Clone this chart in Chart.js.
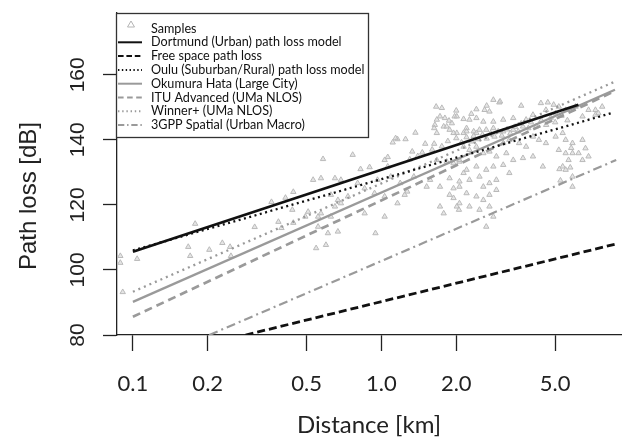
<!DOCTYPE html>
<html>
<head>
<meta charset="utf-8">
<script src="https://cdn.jsdelivr.net/npm/chart.js@4.4.1/dist/chart.umd.min.js"></script>
<style>
  html, body { margin: 0; padding: 0; background: #fff; }
  #wrap { width: 626px; height: 437px; }
</style>
</head>
<body>
<div id="wrap"><canvas id="chart" width="626" height="437"></canvas></div>
<script>
// ─────────────────────────────
// Data
// ─────────────────────────────
const xTicks = [0.1, 0.2, 0.5, 1, 2, 5];
const xTickLabels = ['0.1', '0.2', '0.5', '1.0', '2.0', '5.0'];
const yTicks = [80, 100, 120, 140, 160];

const sampleKm = [
  0.089, 0.089, 0.091, 0.104, 0.167, 0.170, 0.178, 0.203, 0.229, 0.246, 0.248, 0.309, 0.361, 0.385, 0.396, 0.411, 0.442, 0.438, 0.442,
  0.582, 0.766, 0.531, 0.571, 0.650, 0.687, 0.824, 0.896, 1.03, 1.06, 1.11, 1.16, 1.25, 1.37, 1.33, 1.46, 1.63, 1.66, 1.75, 1.72,
  1.80, 1.87, 1.92, 1.78, 1.97, 2.01, 2.14, 1.64, 1.88, 1.67, 1.83, 1.95, 2.06, 2.14, 1.88, 1.95, 2.06, 1.72, 1.88, 1.95, 2.01,
  2.05, 1.72, 1.78, 1.57, 1.52, 1.27, 1.24, 1.16, 1.03, 0.946, 0.856, 0.687, 0.668, 0.626, 0.650, 0.668, 0.609, 0.546, 0.598,
  0.571, 0.556, 0.507, 0.494, 0.556, 0.626, 0.733, 0.856, 1.06, 1.09, 1.35, 0.964, 0.802, 0.938, 1.03, 1.19,
  2.82, 2.98, 3.65, 4.38, 4.67, 4.93, 2.41, 2.60, 2.72, 1.67, 2.01, 2.14, 2.26, 2.41, 2.57, 2.82, 3.09, 3.39, 3.82, 1.14, 1.63,
  1.83, 2.20, 2.35, 2.48, 1.67, 1.95,
  4.07, 4.59, 5.02, 5.17, 5.51, 6.04, 6.81, 7.26, 6.44, 2.20, 2.41, 2.64, 2.82, 3.09, 3.39, 3.71, 4.07, 4.30, 4.59, 5.02, 5.36,
  5.51, 5.17, 5.51, 5.87, 6.44, 6.62, 6.21, 2.14, 2.26, 2.41, 2.57, 2.72, 2.90, 3.18, 3.39, 3.71, 4.07, 2.06, 2.20, 2.41, 2.64,
  2.82, 3.09, 3.27, 2.26, 2.48, 2.57, 2.72, 2.90, 2.06, 2.20, 2.41, 2.57, 2.72, 2.90, 2.06, 2.26, 2.48, 2.72, 2.82, 2.64, 4.46,
  5.51, 5.87, 5.36, 5.87, 5.66, 6.44, 6.81, 3.27, 3.09, 3.58, 3.82, 5.87, 7.26, 7.46, 7.73,
  2.00, 2.10, 2.20, 2.30, 2.35, 2.45, 2.55, 2.65, 2.75, 2.85, 2.95, 3.05, 3.20, 3.30, 3.45, 3.55, 3.65, 3.90, 4.00, 4.20,
  4.40, 4.60, 4.80, 5.00, 5.30, 5.60, 1.75, 1.85, 1.60, 1.50, 1.40, 1.30, 5.20, 5.25, 5.75, 5.80, 2.30, 2.65, 3.00, 2.00
];
const sampleDb = [
  104.3, 102.2, 93.2, 103.4, 107.1, 104.3, 114.2, 106.2, 108.3, 107.1, 104.3, 113.2, 120.9, 114.8, 112.9, 122.2, 124.0, 118.5, 114.5,
  134.1, 135.4, 127.7, 128.2, 128.2, 127.7, 131.0, 131.6, 133.8, 134.7, 139.2, 140.2, 140.2, 142.2, 136.4, 136.1, 138.8, 150.2, 149.8, 147.2,
  146.7, 145.9, 145.1, 144.1, 147.2, 142.1, 142.1, 144.6, 143.1, 133.8, 133.3, 132.8, 133.3, 129.8, 128.2, 125.1, 127.2, 125.6, 123.1, 122.1, 119.5,
  118.5, 119.5, 117.4, 127.7, 125.6, 124.1, 123.1, 120.5, 116.4, 111.3, 117.4, 120.5, 121.5, 123.1, 119.5, 111.8, 111.3, 106.7, 107.7,
  117.4, 116.4, 117.9, 116.4, 113.3, 116.4, 122.6, 125.1, 131.8, 128.7, 128.7, 127.7, 126.7, 123.6, 122.6, 126.7,
  152.3, 151.5, 150.5, 151.3, 151.5, 150.8, 149.4, 149.2, 148.7, 146.2, 147.2, 146.4, 146.2, 146.7, 145.6, 145.6, 146.2, 146.7, 146.2, 140.5, 143.6,
  144.1, 143.6, 142.6, 143.1, 142.1, 142.1,
  147.7, 149.2, 148.2, 150.2, 149.2, 150.2, 149.2, 147.7, 147.2, 142.6, 142.1, 143.1, 143.6, 142.6, 143.1, 144.1, 141.0, 140.0, 139.0, 141.0, 142.1,
  140.0, 136.9, 135.9, 139.0, 140.0, 137.4, 135.9, 137.9, 136.9, 137.9, 135.9, 136.4, 134.9, 135.9, 133.8, 134.4, 134.9, 133.8, 130.8, 131.8, 130.8,
  131.8, 132.3, 129.8, 127.7, 128.7, 125.6, 126.7, 127.7, 125.6, 123.6, 122.6, 121.5, 123.1, 124.6, 120.5, 119.5, 118.5, 119.5, 116.4, 113.3, 131.8,
  130.8, 128.7, 131.8, 125.6, 133.8, 133.8, 134.9, 140.0, 139.0, 139.0, 137.9, 135.9, 149.2, 148.2, 150.2,
  140.5, 139.2, 140.8, 139.5, 141.2, 140.2, 141.6, 140.4, 142.0, 141.0, 142.6, 141.3, 143.2, 142.0, 144.0, 142.6, 145.0, 143.6, 145.4, 144.2,
  146.0, 144.6, 146.8, 145.4, 147.4, 146.0, 138.0, 139.6, 137.0, 138.8, 135.0, 134.0, 131.0, 127.5, 131.5, 137.5, 148.0, 150.5, 151.8, 149.0
];

// model lines: end points in km / dB
const dortmundKm = [0.1, 6.2];
const dortmundDb = [105.6, 150.8];
const freeSpaceKm = [0.284, 8.8];
const freeSpaceDb = [80, 108];
const ouluKm = [0.1, 8.6];
const ouluDb = [106.0, 148.4];
const okumuraKm = [0.1, 8.7];
const okumuraDb = [90.2, 155.4];
const ituKm = [0.1, 8.7];
const ituDb = [85.6, 155.0];
const winnerKm = [0.1, 8.7];
const winnerDb = [93.3, 157.9];
const gppKm = [0.203, 8.8];
const gppDb = [80, 133.8];

function pts(xs, ys) {
  return xs.map((x, i) => ({ x: x, y: ys[i] }));
}

const GRAY = '#9a9a9a';
const DARK = '#111';

const lineSeries = [
  { label: 'Dortmund (Urban) path loss model', km: dortmundKm, db: dortmundDb, color: DARK, width: 2.8, dash: [] },
  { label: 'Free space path loss', km: freeSpaceKm, db: freeSpaceDb, color: DARK, width: 2.8, dash: [8, 4] },
  { label: 'Oulu (Suburban/Rural) path loss model', km: ouluKm, db: ouluDb, color: DARK, width: 2.3, dash: [2, 3.5] },
  { label: 'Okumura Hata (Large City)', km: okumuraKm, db: okumuraDb, color: GRAY, width: 2.3, dash: [] },
  { label: 'ITU Advanced (UMa NLOS)', km: ituKm, db: ituDb, color: GRAY, width: 2.7, dash: [8, 5] },
  { label: 'Winner+ (UMa NLOS)', km: winnerKm, db: winnerDb, color: GRAY, width: 2.3, dash: [2, 4] },
  { label: '3GPP Spatial (Urban Macro)', km: gppKm, db: gppDb, color: GRAY, width: 2.2, dash: [9, 4, 2, 4] }
];

const datasets = [{
  label: 'Samples',
  data: pts(sampleKm, sampleDb),
  showLine: false,
  pointStyle: 'triangle',
  pointRadius: 3.1,
  borderWidth: 1,
  borderColor: '#bababa',
  backgroundColor: 'rgba(212,212,212,0.6)',
  order: 10
}];
lineSeries.forEach((s, i) => {
  datasets.push({
    label: s.label,
    data: pts(s.km, s.db),
    showLine: true,
    pointRadius: 0,
    borderColor: s.color,
    borderWidth: s.width,
    borderDash: s.dash,
    borderCapStyle: 'butt',
    fill: false,
    order: i
  });
});

// ─────────────────────────────
// y labels, y title, legend box
// ─────────────────────────────
const decor = {
  id: 'decor',
  afterDraw(chart) {
    const ctx = chart.ctx;
    const ys = chart.scales.y;
    ctx.save();
    ctx.fillStyle = '#222';
    ctx.textAlign = 'center';
    ctx.textBaseline = 'middle';

    ctx.font = '21px "Liberation Sans", Arial, sans-serif';
    yTicks.forEach(v => {
      ctx.save();
      ctx.translate(78, ys.getPixelForValue(v));
      ctx.rotate(-Math.PI / 2);
      ctx.fillText(String(v), 0, 0);
      ctx.restore();
    });

    ctx.font = '24px "Liberation Sans", Arial, sans-serif';
    ctx.save();
    ctx.translate(29, 196);
    ctx.rotate(-Math.PI / 2);
    ctx.fillText('Path loss [dB]', 0, 0);
    ctx.restore();

    // legend
    const bx = 116.5, by = 13.5, bw = 252, bh = 124;
    ctx.fillStyle = '#fff';
    ctx.fillRect(bx, by, bw, bh);
    ctx.strokeStyle = '#333';
    ctx.lineWidth = 1.3;
    ctx.strokeRect(bx, by, bw, bh);

    ctx.textAlign = 'left';
    ctx.font = '12.6px Lato, "Open Sans", sans-serif';
    const rowY = i => 28.5 + i * 13.8;

    // samples triangle
    ctx.strokeStyle = '#b4b4b4';
    ctx.lineWidth = 1;
    ctx.beginPath();
    ctx.moveTo(131, 21);
    ctx.lineTo(134.5, 27);
    ctx.lineTo(127.5, 27);
    ctx.closePath();
    ctx.stroke();
    ctx.fillStyle = '#111';
    ctx.fillText('Samples', 151, rowY(0));

    lineSeries.forEach((s, i) => {
      const y = rowY(i + 1);
      ctx.strokeStyle = s.color;
      ctx.lineWidth = Math.min(s.width, 2);
      ctx.setLineDash(s.dash.map(d => d * 0.7));
      ctx.beginPath();
      ctx.moveTo(118, y);
      ctx.lineTo(142, y);
      ctx.stroke();
      ctx.setLineDash([]);
      ctx.fillStyle = '#111';
      ctx.fillText(s.label, 151, y);
    });
    ctx.restore();
  }
};

new Chart(document.getElementById('chart').getContext('2d'), {
  type: 'scatter',
  data: { datasets: datasets },
  plugins: [decor],
  options: {
    responsive: false,
    animation: false,
    devicePixelRatio: 1,
    layout: { padding: { top: 13, right: 0, left: 0, bottom: 0 } },
    plugins: { legend: { display: false }, tooltip: { enabled: false } },
    scales: {
      x: {
        type: 'logarithmic',
        min: 0.0863,
        max: 9.2,
        afterBuildTicks: s => { s.ticks = xTicks.map(v => ({ value: v })); },
        afterFit: s => { s.height = 102; },
        grid: { drawOnChartArea: false, tickLength: 16, tickWidth: 1.3, tickColor: '#222' },
        border: { display: true, color: '#222', width: 1.3 },
        ticks: {
          autoSkip: false, maxRotation: 0, minRotation: 0, padding: 20, color: '#222',
          font: { family: 'Lato, "Open Sans", sans-serif', size: 22 },
          callback: (v, i) => xTickLabels[i]
        },
        title: {
          display: true, text: 'Distance [km]', color: '#222',
          font: { family: 'Lato, "Open Sans", sans-serif', size: 24, lineHeight: 1 },
          padding: { top: 0, bottom: 0 }
        }
      },
      y: {
        min: 80,
        max: 179,
        afterBuildTicks: s => { s.ticks = yTicks.map(v => ({ value: v })); },
        afterFit: s => { s.width = 117; },
        grid: { drawOnChartArea: false, tickLength: 14, tickWidth: 1.3, tickColor: '#222' },
        border: { display: true, color: '#222', width: 1.3 },
        ticks: { display: false }
      }
    }
  }
});
</script>
</body>
</html>
